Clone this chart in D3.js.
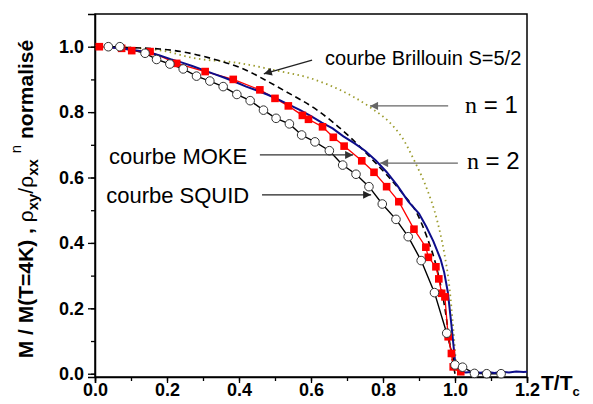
<!DOCTYPE html>
<html><head><meta charset="utf-8">
<script src="https://cdn.jsdelivr.net/npm/d3@7/dist/d3.min.js"></script>
<style>body{margin:0;background:#fff}svg{display:block}</style>
</head><body>
<svg id="c" width="593" height="404"></svg>
<script>
// ---------- data ----------
const xTicks = [0, 0.2, 0.4, 0.6, 0.8, 1.0, 1.2];
const yTicks = [0, 0.2, 0.4, 0.6, 0.8, 1.0];

const brillouinT = [0, 0.1, 0.2, 0.27, 0.4, 0.5, 0.6, 0.68, 0.764, 0.83, 0.852, 0.889, 0.921, 0.95, 0.97, 0.985, 0.995, 1.005];
const brillouinV = [1.0, 0.997, 0.985, 0.966, 0.95, 0.928, 0.903, 0.868, 0.815, 0.755, 0.724, 0.647, 0.568, 0.47, 0.37, 0.26, 0.14, 0.0];

const dashT = [0, 0.033, 0.18, 0.32, 0.43, 0.458, 0.522, 0.617, 0.708, 0.772, 0.853, 0.894, 0.922, 0.95, 0.972, 0.99, 1.0];
const dashV = [1.0, 0.999, 0.993, 0.965, 0.923, 0.907, 0.868, 0.806, 0.724, 0.653, 0.553, 0.491, 0.418, 0.32, 0.2, 0.06, 0.0];

const blueT = [0.03, 0.06, 0.09, 0.12, 0.15, 0.18, 0.21, 0.24, 0.27, 0.30, 0.33, 0.36, 0.39, 0.42, 0.45, 0.48, 0.51, 0.54, 0.57, 0.60, 0.63, 0.66, 0.69, 0.72, 0.75, 0.78, 0.81, 0.84, 0.87, 0.90, 0.92, 0.94, 0.96, 0.97, 0.98, 0.99, 1.0, 1.01, 1.03, 1.05, 1.07, 1.09, 1.11, 1.13, 1.15, 1.17, 1.19, 1.2];
const blueV = [0.998, 0.996, 0.992, 0.988, 0.982, 0.973, 0.962, 0.952, 0.941, 0.929, 0.917, 0.905, 0.892, 0.878, 0.866, 0.853, 0.838, 0.822, 0.806, 0.788, 0.768, 0.75, 0.726, 0.705, 0.682, 0.652, 0.617, 0.575, 0.527, 0.49, 0.45, 0.405, 0.35, 0.31, 0.25, 0.15, 0.04, 0.008, 0.004, 0.006, 0.003, 0.005, 0.002, 0.006, 0.004, 0.007, 0.005, 0.006];

const mokeT = [0.012, 0.074, 0.102, 0.153, 0.227, 0.306, 0.384, 0.458, 0.5, 0.537, 0.576, 0.593, 0.632, 0.662, 0.692, 0.741, 0.775, 0.81, 0.844, 0.886, 0.919, 0.926, 0.947, 0.955, 0.963, 0.972, 0.981, 0.99, 0.995, 1.016];
const mokeV = [1.0, 0.995, 0.988, 0.985, 0.949, 0.924, 0.9, 0.868, 0.842, 0.819, 0.79, 0.778, 0.755, 0.723, 0.696, 0.651, 0.616, 0.572, 0.526, 0.442, 0.387, 0.356, 0.327, 0.29, 0.246, 0.235, 0.113, 0.062, 0.021, 0.006];

const squidT = [0.037, 0.069, 0.139, 0.171, 0.208, 0.245, 0.282, 0.319, 0.356, 0.394, 0.431, 0.468, 0.503, 0.54, 0.574, 0.611, 0.651, 0.688, 0.725, 0.761, 0.798, 0.836, 0.87, 0.906, 0.943, 0.977, 1.0, 1.021, 1.054, 1.088, 1.128];
const squidV = [1.0, 1.0, 0.98, 0.961, 0.947, 0.932, 0.91, 0.895, 0.878, 0.854, 0.835, 0.806, 0.781, 0.764, 0.73, 0.709, 0.682, 0.638, 0.61, 0.572, 0.519, 0.472, 0.419, 0.346, 0.248, 0.124, 0.027, 0.02, 0.001, 0.0, 0.0];

// annotations (data units)
const labels = [
  {text: "courbe Brillouin S=5/2", t: 0.639, v: 0.943, size: 20},
  {text: "courbe MOKE", t: 0.039, v: 0.641, size: 22},
  {text: "courbe SQUID", t: 0.031, v: 0.522, size: 22}
];
const nLabels = [{n: "1", t: 1.028, v: 0.797}, {n: "2", t: 1.033, v: 0.626}];
const arrows = [
  {t0: 0.603, v0: 0.959, t1: 0.469, v1: 0.917, c: "#222"},
  {t0: 0.981, v0: 0.819, t1: 0.764, v1: 0.819, c: "#666"},
  {t0: 1.008, v0: 0.644, t1: 0.792, v1: 0.644, c: "#666"},
  {t0: 0.458, v0: 0.669, t1: 0.717, v1: 0.669, c: "#333"},
  {t0: 0.464, v0: 0.547, t1: 0.767, v1: 0.547, c: "#222"}
];

// ---------- chart ----------
const svg = d3.select("#c");
const L = 95, R = 527, T = 14, B = 377;
const x = d3.scaleLinear().domain([0, 1.2]).range([L, R]);
const y = d3.scaleLinear().domain([-0.01, 1.1]).range([B, T]);
const font = "'Liberation Sans', Arial, sans-serif";

const zip = (a, b) => a.map((d, i) => [d, b[i]]);
const line = d3.line().x(d => x(d[0])).y(d => y(d[1]));

// frame
svg.append("rect").attr("x", L).attr("y", T).attr("width", R - L).attr("height", B - T)
  .attr("fill", "none").attr("stroke", "#000").attr("stroke-width", 1.5);

// axes
const minorX = d3.range(0, 1.21, 0.1);
const minorY = d3.range(0, 1.01, 0.1);
const gx = svg.append("g").attr("transform", `translate(0,${B})`);
gx.call(d3.axisBottom(x).tickValues(minorX).tickSize(4).tickFormat(""));
gx.call(g => g.select(".domain").remove());
const gx2 = svg.append("g").attr("transform", `translate(0,${B})`)
  .call(d3.axisBottom(x).tickValues(xTicks).tickSize(6).tickPadding(0).tickFormat(d3.format(".1f")));
gx2.select(".domain").attr("stroke-width", 1.5);
gx2.selectAll("text").attr("font-family", font).attr("font-size", 18).attr("font-weight", "bold").attr("fill", "#000");

const gy = svg.append("g").attr("transform", `translate(${L},0)`);
gy.call(d3.axisLeft(y).tickValues(minorY).tickSize(4).tickFormat(""));
gy.call(g => g.select(".domain").remove());
const gy2 = svg.append("g").attr("transform", `translate(${L},0)`)
  .call(d3.axisLeft(y).tickValues(yTicks).tickSize(7).tickPadding(4).tickFormat(d3.format(".1f")));
gy2.select(".domain").attr("stroke-width", 1.5);
gy2.selectAll("text").attr("font-family", font).attr("font-size", 18).attr("font-weight", "bold").attr("fill", "#000");
svg.selectAll(".tick line").attr("stroke-width", 1.3);

// curves
svg.append("path").datum(zip(brillouinT, brillouinV)).attr("d", line.curve(d3.curveMonotoneX))
  .attr("fill", "none").attr("stroke", "#9c9c2e").attr("stroke-width", 1.8).attr("stroke-dasharray", "1.5,3.5");
svg.append("path").datum(zip(dashT, dashV)).attr("d", line.curve(d3.curveMonotoneX))
  .attr("fill", "none").attr("stroke", "#000").attr("stroke-width", 1.6).attr("stroke-dasharray", "6,4");

const sq = zip(squidT, squidV);
svg.append("path").datum(sq).attr("d", line.curve(d3.curveLinear))
  .attr("fill", "none").attr("stroke", "#000").attr("stroke-width", 1.4);

const mk = zip(mokeT, mokeV);
svg.append("path").datum(mk).attr("d", line.curve(d3.curveLinear))
  .attr("fill", "none").attr("stroke", "#ff0000").attr("stroke-width", 1.3);

svg.append("path").datum(zip(blueT, blueV)).attr("d", line.curve(d3.curveLinear))
  .attr("fill", "none").attr("stroke", "#0d0d8a").attr("stroke-width", 2);

svg.append("g").selectAll("rect").data(mk).join("rect")
  .attr("x", d => x(d[0]) - 3.8).attr("y", d => y(d[1]) - 3.8)
  .attr("width", 7.6).attr("height", 7.6).attr("fill", "#ff0000");

svg.append("g").selectAll("circle").data(sq).join("circle")
  .attr("cx", d => x(d[0])).attr("cy", d => y(d[1])).attr("r", 4.3)
  .attr("fill", "#fff").attr("stroke", "#333").attr("stroke-width", 1);

// arrows
const defs = svg.append("defs");
arrows.forEach((a, i) => {
  defs.append("marker").attr("id", "ah" + i).attr("viewBox", "0 0 10 10").attr("refX", 10).attr("refY", 5)
    .attr("markerUnits", "userSpaceOnUse").attr("markerWidth", 11).attr("markerHeight", 8).attr("orient", "auto")
    .append("path").attr("d", "M0,0L10,5L0,10Z").attr("fill", a.c);
  svg.append("line").attr("x1", x(a.t0)).attr("y1", y(a.v0)).attr("x2", x(a.t1)).attr("y2", y(a.v1))
    .attr("stroke", a.c).attr("stroke-width", 1.3).attr("marker-end", `url(#ah${i})`);
});

// labels
labels.forEach(l => {
  svg.append("text").attr("x", x(l.t)).attr("y", y(l.v)).attr("font-family", font)
    .attr("font-size", l.size).attr("fill", "#000").text(l.text);
});
nLabels.forEach(l => {
  const t = svg.append("text").attr("x", x(l.t)).attr("y", y(l.v)).attr("font-size", 24).attr("fill", "#000");
  t.append("tspan").attr("font-family", "'Liberation Serif', 'Times New Roman', serif").text("n");
  t.append("tspan").attr("font-family", font).text(" = " + l.n);
});

// axis titles
const yt = svg.append("text").attr("transform", "translate(33,199) rotate(-90)")
  .attr("text-anchor", "middle").attr("font-family", font).attr("font-size", 21).attr("font-weight", "bold").attr("fill", "#000");
yt.append("tspan").text("M / M(T=4K) , ");
yt.append("tspan").attr("font-weight", "normal").text("ρ");
yt.append("tspan").attr("font-size", 15).attr("dy", 5).text("xy");
yt.append("tspan").attr("font-weight", "normal").attr("dy", -5).text("/");
yt.append("tspan").attr("font-weight", "normal").text("ρ");
yt.append("tspan").attr("font-size", 15).attr("dy", 5).text("xx");
yt.append("tspan").attr("font-size", 15).attr("font-weight", "normal").attr("dx", 6).attr("dy", -17).text("n");
yt.append("tspan").attr("dy", 12).text(" normalisé");

const xt = svg.append("text").attr("x", 541).attr("y", 390).attr("font-family", font)
  .attr("font-size", 21).attr("font-weight", "bold").attr("fill", "#000");
xt.append("tspan").text("T/T");
xt.append("tspan").attr("font-size", 13).attr("dy", 6).text("c");
</script>
</body></html>
